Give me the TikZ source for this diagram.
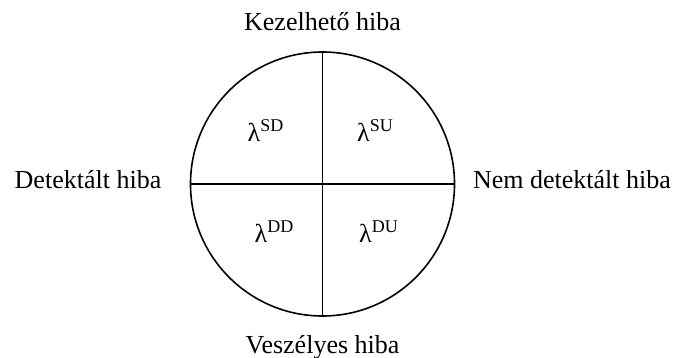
\documentclass[tikz,border=0pt]{standalone}
\usepackage{fontspec}
\setmainfont{Liberation Serif}
\begin{document}
\begin{tikzpicture}[x=1pt,y=-1pt,
  lbl/.style={anchor=base,inner sep=0pt,font=\fontsize{26}{26}\selectfont},
  lam/.style={anchor=base,inner sep=0pt,font=\fontsize{26}{26}\selectfont},
  ring/.style={draw,circle,line width=1.6pt,minimum size=264pt,inner sep=0pt,outer sep=0pt},
  divider/.style={line width=1.6pt}]
\useasboundingbox (0,0) rectangle (676,358);
\node[ring] (c) at (322.5,184) {};
\draw[divider] (c.north) -- (c.south);
\draw[divider] (c.west) -- (c.east);
\newcommand{\lamsup}[1]{λ\raisebox{10pt}{\fontsize{18}{18}\selectfont #1}}
\node[lam] (sd) at (265.5,142) {\lamsup{SD}};
\node[lam] (su) at (375,142) {\lamsup{SU}};
\node[lam] (dd) at (274,242) {\lamsup{DD}};
\node[lam] (du) at (378.5,242) {\lamsup{DU}};
\node[lbl] (top) at (322.5,31) {Kezelhető hiba};
\node[lbl] (bot) at (322.5,353) {Veszélyes hiba};
\node[lbl] (left) at (88,188) {Detektált hiba};
\node[lbl] (right) at (572,188) {Nem detektált hiba};
\end{tikzpicture}
\end{document}
